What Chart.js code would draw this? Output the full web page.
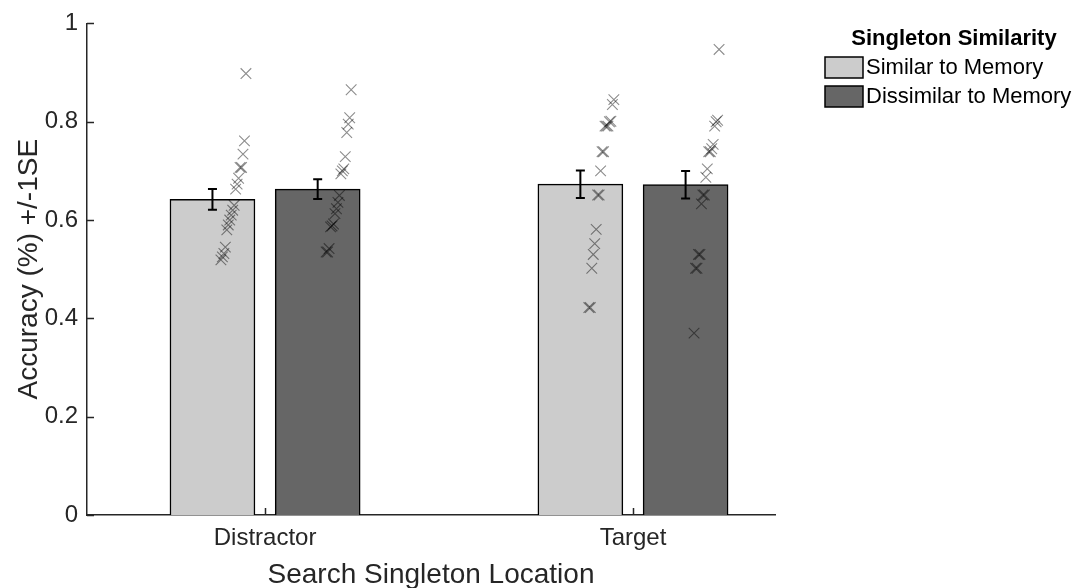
<!DOCTYPE html>
<html>
<head>
<meta charset="utf-8">
<script src="https://cdn.jsdelivr.net/npm/chart.js@4"></script>
<style>
  html, body { margin: 0; padding: 0; background: #fff; }
  #wrap { width: 1086px; height: 588px; }
</style>
</head>
<body>
<div id="wrap"><canvas id="accuracyChart" width="1086" height="588"></canvas></div>
<script>
// ==================== Data ====================
const categories = ['Distractor', 'Target'];
const seriesLabels = ['Similar to Memory', 'Dissimilar to Memory'];
const legendTitle = 'Singleton Similarity';
const xTitle = 'Search Singleton Location';
const yTitle = 'Accuracy (%) +/-1SE';
const yTicks = [0, 0.2, 0.4, 0.6, 0.8, 1];

// bar means and standard errors (per category)
const meanSimilar = [0.642, 0.673];
const meanDissimilar = [0.663, 0.672];
const seSimilar = [0.021, 0.028];
const seDissimilar = [0.020, 0.028];

// individual participant scores, sorted low to high
const distractorSimilar = [0.519, 0.525, 0.532, 0.545, 0.580, 0.590, 0.600, 0.610, 0.620, 0.630, 0.663, 0.673, 0.685, 0.707, 0.707, 0.734, 0.761, 0.898];
const distractorDissimilar = [0.535, 0.535, 0.542, 0.586, 0.588, 0.592, 0.613, 0.623, 0.636, 0.650, 0.694, 0.700, 0.704, 0.729, 0.778, 0.795, 0.808, 0.865];
const targetSimilar = [0.422, 0.422, 0.502, 0.530, 0.552, 0.581, 0.651, 0.651, 0.700, 0.739, 0.739, 0.791, 0.791, 0.791, 0.800, 0.801, 0.835, 0.845];
const targetDissimilar = [0.370, 0.502, 0.502, 0.530, 0.530, 0.633, 0.651, 0.651, 0.687, 0.704, 0.739, 0.739, 0.745, 0.754, 0.791, 0.800, 0.803, 0.947];

// ==================== Layout ====================
const FONT = '"Liberation Sans", Arial, Helvetica, sans-serif';
const AXIS_COLOR = '#262626';
const BAR_OFFSET = 0.143;        // bar centre distance from category centre (x units)
const JITTER_START = 0.023;      // scatter offset right of bar centre
const JITTER_SPAN = 0.068;       // scatter spread, lowest to highest score
const CHART_LEFT = 87, CHART_RIGHT = 775, CHART_TOP = 20, CHART_BOTTOM = 515;

function barPoints(means, shift) {
    return means.map((m, i) => ({ x: i + 1 + shift, y: m }));
}

function scatterPoints(scores, catIndex, shift) {
    const n = scores.length;
    return scores.map((v, i) => ({
        x: catIndex + 1 + shift + JITTER_START + JITTER_SPAN * (i / (n - 1)),
        y: v
    }));
}

const markerStyle = {
    type: 'scatter',
    pointStyle: 'crossRot',
    pointRadius: 7.5,
    pointHoverRadius: 7.5,
    borderColor: 'rgba(0,0,0,0.45)',
    backgroundColor: 'rgba(0,0,0,0)',
    pointBorderWidth: 1.1,
    order: 1
};

// Error bars drawn from the bar elements and the y scale
const errorBarPlugin = {
    id: 'errorBars',
    afterDatasetsDraw(chart) {
        const ctx = chart.ctx;
        const yScale = chart.scales.y;
        const errs = [seSimilar, seDissimilar];
        const means = [meanSimilar, meanDissimilar];
        ctx.save();
        ctx.strokeStyle = '#000';
        ctx.lineWidth = 2;
        [0, 1].forEach(d => {
            const meta = chart.getDatasetMeta(d);
            meta.data.forEach((bar, i) => {
                const yHi = yScale.getPixelForValue(means[d][i] + errs[d][i]);
                const yLo = yScale.getPixelForValue(means[d][i] - errs[d][i]);
                ctx.beginPath();
                ctx.moveTo(bar.x, yHi); ctx.lineTo(bar.x, yLo);
                ctx.moveTo(bar.x - 4.5, yHi); ctx.lineTo(bar.x + 4.5, yHi);
                ctx.moveTo(bar.x - 4.5, yLo); ctx.lineTo(bar.x + 4.5, yLo);
                ctx.stroke();
            });
        });
        ctx.restore();
    }
};

// Inward tick marks (MATLAB style)
const innerTicksPlugin = {
    id: 'innerTicks',
    afterDraw(chart) {
        const ctx = chart.ctx;
        const { x, y } = chart.scales;
        const area = chart.chartArea;
        ctx.save();
        ctx.strokeStyle = AXIS_COLOR;
        ctx.lineWidth = 1.5;
        ctx.beginPath();
        yTicks.forEach(t => {
            const py = Math.round(y.getPixelForValue(t)) + 0.5;
            ctx.moveTo(area.left, py); ctx.lineTo(area.left + 7, py);
        });
        categories.forEach((c, i) => {
            const px = Math.round(x.getPixelForValue(i + 1)) + 0.5;
            ctx.moveTo(px, area.bottom); ctx.lineTo(px, area.bottom - 7);
        });
        ctx.stroke();
        ctx.restore();
    }
};

// Legend with title, top right outside the axes
const legendPlugin = {
    id: 'boxLegend',
    afterDraw(chart) {
        const ctx = chart.ctx;
        const fills = ['#cccccc', '#666666'];
        ctx.save();
        ctx.fillStyle = '#000';
        ctx.font = 'bold 22px ' + FONT;
        ctx.textAlign = 'center';
        ctx.textBaseline = 'middle';
        ctx.fillText(legendTitle, 954, 39);
        ctx.font = '22px ' + FONT;
        ctx.textAlign = 'left';
        seriesLabels.forEach((label, i) => {
            const top = 57 + i * 29;
            ctx.fillStyle = fills[i];
            ctx.fillRect(825, top, 38, 21);
            ctx.strokeStyle = '#000';
            ctx.lineWidth = 1.5;
            ctx.strokeRect(825, top, 38, 21);
            ctx.fillStyle = '#000';
            ctx.fillText(label, 866, top + 11);
        });
        ctx.restore();
    }
};

const whiteBg = {
    id: 'whiteBg',
    beforeDraw(chart) {
        const ctx = chart.ctx;
        ctx.save();
        ctx.fillStyle = '#fff';
        ctx.fillRect(0, 0, chart.width, chart.height);
        ctx.restore();
    }
};

function renderAccuracyChart() {
    const ctx = document.getElementById('accuracyChart');
    new Chart(ctx, {
        data: {
            datasets: [
                {
                    type: 'bar',
                    label: seriesLabels[0],
                    data: barPoints(meanSimilar, -BAR_OFFSET),
                    backgroundColor: '#cccccc',
                    borderColor: '#000',
                    borderWidth: 1.5,
                    grouped: false,
                    barThickness: 85,
                    maxBarThickness: 85,
                    order: 2
                },
                {
                    type: 'bar',
                    label: seriesLabels[1],
                    data: barPoints(meanDissimilar, BAR_OFFSET),
                    backgroundColor: '#666666',
                    borderColor: '#000',
                    borderWidth: 1.5,
                    grouped: false,
                    barThickness: 85,
                    maxBarThickness: 85,
                    order: 2
                },
                { ...markerStyle, label: 'Distractor similar', data: scatterPoints(distractorSimilar, 0, -BAR_OFFSET) },
                { ...markerStyle, label: 'Distractor dissimilar', data: scatterPoints(distractorDissimilar, 0, BAR_OFFSET) },
                { ...markerStyle, label: 'Target similar', data: scatterPoints(targetSimilar, 1, -BAR_OFFSET) },
                { ...markerStyle, label: 'Target dissimilar', data: scatterPoints(targetDissimilar, 1, BAR_OFFSET) }
            ]
        },
        options: {
            responsive: false,
            animation: false,
            layout: { padding: { left: 0, top: CHART_TOP, right: 1086 - CHART_RIGHT, bottom: 0 } },
            plugins: {
                legend: { display: false },
                tooltip: { enabled: false }
            },
            scales: {
                x: {
                    type: 'linear',
                    offset: false,
                    min: 0.516,
                    max: 2.386,
                    afterBuildTicks: (scale) => { scale.ticks = categories.map((c, i) => ({ value: i + 1 })); },
                    afterFit: (scale) => { scale.height = 588 - CHART_BOTTOM; },
                    grid: { display: false, drawTicks: false, offset: false },
                    border: { display: true, color: AXIS_COLOR, width: 1.5 },
                    ticks: {
                        padding: 9,
                        color: AXIS_COLOR,
                        font: { family: FONT, size: 24 },
                        callback: (v) => categories[Math.round(v) - 1] || ''
                    },
                    title: {
                        display: true,
                        text: xTitle,
                        color: AXIS_COLOR,
                        font: { family: FONT, size: 28 },
                        padding: { top: 0, bottom: -4 }
                    }
                },
                y: {
                    min: 0,
                    max: 1,
                    afterBuildTicks: (scale) => { scale.ticks = yTicks.map(v => ({ value: v })); },
                    afterFit: (scale) => { scale.width = CHART_LEFT; },
                    grid: { display: false, drawTicks: false },
                    border: { display: true, color: AXIS_COLOR, width: 1.5 },
                    ticks: {
                        padding: 9,
                        color: AXIS_COLOR,
                        font: { family: FONT, size: 24 },
                        callback: (v) => String(Math.round(v * 10) / 10)
                    },
                    title: {
                        display: true,
                        text: yTitle,
                        color: AXIS_COLOR,
                        font: { family: FONT, size: 28 },
                        padding: { top: 12, bottom: 0 }
                    }
                }
            }
        },
        plugins: [whiteBg, errorBarPlugin, innerTicksPlugin, legendPlugin]
    });
}

document.addEventListener('DOMContentLoaded', renderAccuracyChart);
</script>
</body>
</html>
